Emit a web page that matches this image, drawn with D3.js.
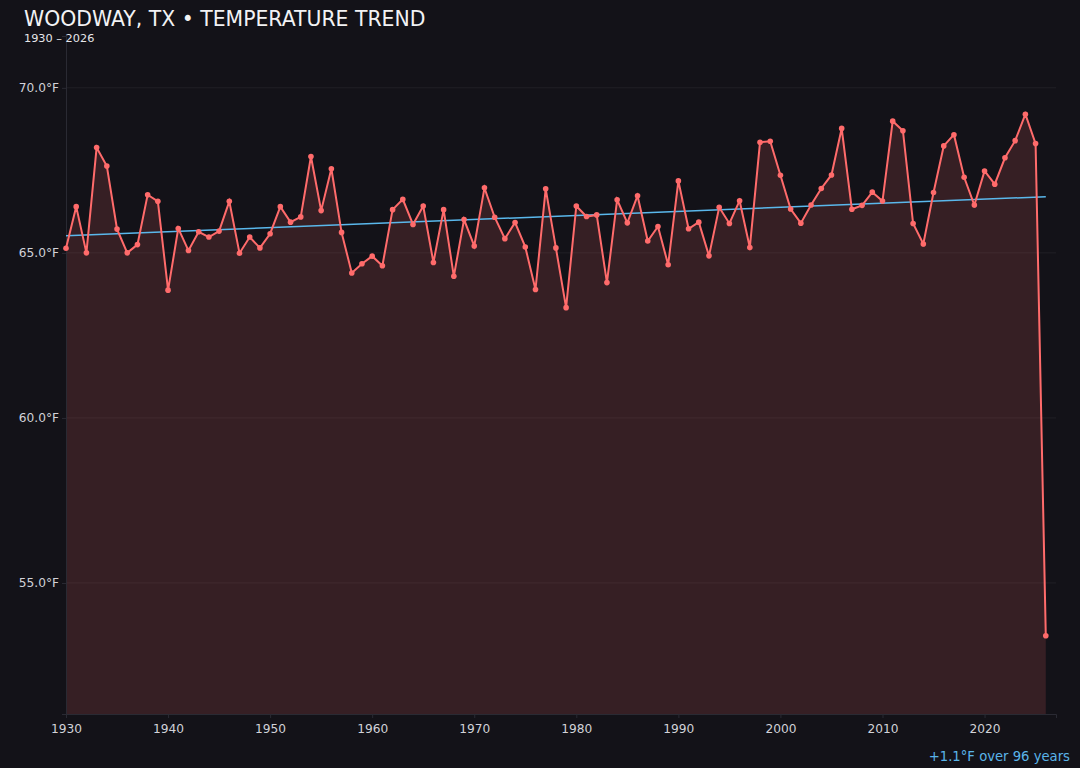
<!DOCTYPE html>
<html>
<head>
<meta charset="utf-8">
<script src="https://cdn.jsdelivr.net/npm/d3@7"></script>
<style>
    html, body { margin: 0; padding: 0; background: #131218; }
    svg { display: block; font-family: "DejaVu Sans", sans-serif; }
</style>
</head>
<body>
<svg id="SVGtrend" width="1080" height="768"></svg>
<script>
"use strict";

// annual mean temperature
const years = d3.range(1930, 2027);
const temps = [
    65.14, 66.40, 65.00, 68.19, 67.63, 65.72, 65.00, 65.25, 66.76, 66.56,
    63.87, 65.74, 65.07, 65.64, 65.48, 65.66, 66.56, 64.99, 65.48, 65.15,
    65.58, 66.40, 65.93, 66.09, 67.92, 66.28, 67.55, 65.62, 64.39, 64.67,
    64.90, 64.61, 66.31, 66.62, 65.86, 66.42, 64.71, 66.31, 64.29, 66.01,
    65.21, 66.97, 66.08, 65.43, 65.92, 65.18, 63.89, 66.94, 65.15, 63.34,
    66.42, 66.10, 66.15, 64.10, 66.61, 65.91, 66.73, 65.36, 65.80, 64.64,
    67.18, 65.73, 65.93, 64.91, 66.38, 65.89, 66.58, 65.16, 68.35, 68.38,
    67.35, 66.33, 65.90, 66.45, 66.95, 67.36, 68.77, 66.32, 66.44, 66.84,
    66.57, 68.99, 68.70, 65.89, 65.27, 66.83, 68.24, 68.58, 67.29, 66.45,
    67.48, 67.08, 67.88, 68.40, 69.20, 68.31, 53.40
];
const xTicks = [1930, 1940, 1950, 1960, 1970, 1980, 1990, 2000, 2010, 2020];
const yTicks = [55, 60, 65, 70];
const trendYears = [1930, 2026];
const trendTemps = [65.52, 66.70];
const titleText = "WOODWAY, TX \u2022 TEMPERATURE TREND";
const subtitleText = "1930 \u2013 2026";
const noteText = "+1.1\u00b0F over 96 years";

const chart = {
    SVG: d3.select("#SVGtrend"),
    width: 1080,
    height: 768,
    padding: {
        top: 36, right: 24, bottom: 54, left: 66
    },
    render: () => {
        const svg = chart.SVG;
        const p = chart.padding;
        const data = years.map((y, i) => ({ year: y, value: temps[i] }));

        svg.append("rect")
            .attr("width", chart.width)
            .attr("height", chart.height)
            .style("fill", "#131218");

        // y domain padded by 15% of the data range
        const lo = d3.min(temps), hi = d3.max(temps);
        const pad = (hi - lo) * 0.15;
        const x = d3.scaleLinear()
            .domain([years[0], years[years.length - 1] + 1])
            .range([p.left, chart.width - p.right]);
        const y = d3.scaleLinear()
            .domain([lo - pad, hi + pad])
            .range([chart.height - p.bottom, p.top]);

        // faint grid
        svg.append("g")
            .selectAll("line")
            .data(yTicks)
            .enter()
            .append("line")
            .attr("x1", p.left)
            .attr("x2", chart.width - p.right)
            .attr("y1", d => y(d))
            .attr("y2", d => y(d))
            .style("stroke", "#ffffff")
            .style("stroke-opacity", 0.06);

        // area under the line
        const area = d3.area()
            .x(d => x(d.year))
            .y0(y.range()[0])
            .y1(d => y(d.value));
        svg.append("path")
            .datum(data)
            .attr("d", area)
            .style("fill", "#ff6b6b")
            .style("fill-opacity", 0.15);

        // axes
        const xAxis = svg.append("g")
            .attr("transform", "translate(0," + y.range()[0] + ")")
            .call(d3.axisBottom(x).tickValues(xTicks).tickFormat(d3.format("d")).tickSize(4).tickPadding(6));
        const yAxis = svg.append("g")
            .attr("transform", "translate(" + p.left + ",0)")
            .call(d3.axisLeft(y).tickValues(yTicks).tickFormat(d => d.toFixed(1) + "\u00b0F").tickSize(4).tickPadding(3));
        [xAxis, yAxis].forEach(g => {
            g.select(".domain").style("stroke", "#2a2a33");
            g.selectAll(".tick line").style("stroke", "#2a2a33");
            g.selectAll(".tick text")
                .style("fill", "#d2d2d8")
                .style("font-size", "12.2px")
                .style("font-family", "DejaVu Sans, sans-serif");
        });

        // trend line
        const line = d3.line()
            .x(d => x(d[0]))
            .y(d => y(d[1]));
        svg.append("path")
            .datum(trendYears.map((yr, i) => [yr, trendTemps[i]]))
            .attr("d", line)
            .style("fill", "none")
            .style("stroke", "#5ab8ec")
            .style("stroke-width", 1.5);

        // temperature line + points
        svg.append("path")
            .datum(data)
            .attr("d", d3.line().x(d => x(d.year)).y(d => y(d.value)))
            .style("fill", "none")
            .style("stroke", "#ff6b6b")
            .style("stroke-width", 2);
        svg.append("g")
            .selectAll("circle")
            .data(data)
            .enter()
            .append("circle")
            .attr("cx", d => x(d.year))
            .attr("cy", d => y(d.value))
            .attr("r", 2.8)
            .style("fill", "#ff6b6b");

        // titles
        svg.append("text")
            .attr("x", 24)
            .attr("y", 26)
            .style("fill", "#f2f2f4")
            .style("font-size", "20.4px")
            .text(titleText);
        svg.append("text")
            .attr("x", 24)
            .attr("y", 41.5)
            .style("fill", "#e6e6ea")
            .style("font-size", "11.3px")
            .text(subtitleText);
        svg.append("text")
            .attr("x", 1070)
            .attr("y", 761)
            .attr("text-anchor", "end")
            .style("fill", "#5ab4e8")
            .style("font-size", "13.2px")
            .text(noteText);
    }
};

chart.render();
</script>
</body>
</html>
